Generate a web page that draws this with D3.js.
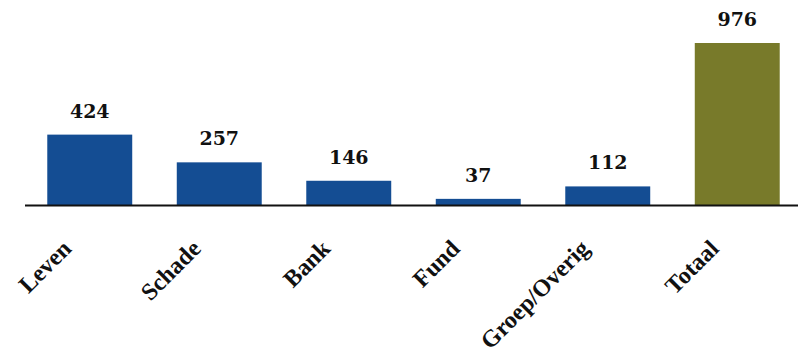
<!doctype html>
<html>
<head>
<meta charset="UTF-8">
<script src="https://d3js.org/d3.v7.min.js"></script>
<style>
  body { margin: 0; background: #fff; }
</style>
</head>
<body>
<script>
  var categories = ["Leven", "Schade", "Bank", "Fund", "Groep/Overig", "Totaal"];
  var values = [424, 257, 146, 37, 112, 976];
  var colors = ["#144d93", "#144d93", "#144d93", "#144d93", "#144d93", "#787a2a"];

  var width = 798, height = 355;
  var baseline = 205;

  var svg = d3.select('body').append('svg')
    .attr('width', width)
    .attr('height', height);

  var x = d3.scaleBand()
    .domain(categories)
    .range([25, 802])
    .paddingInner(0.344)
    .paddingOuter(0.172);

  var y = d3.scaleLinear()
    .domain([0, 976])
    .range([baseline, 43]);

  var data = categories.map((c, i) => ({ cat: c, val: values[i], color: colors[i] }));

  svg.selectAll('rect.bar')
    .data(data)
    .enter()
    .append('rect')
    .attr('class', 'bar')
    .attr('x', d => x(d.cat))
    .attr('y', d => y(d.val))
    .attr('width', x.bandwidth())
    .attr('height', d => baseline - y(d.val))
    .attr('fill', d => d.color);

  // value labels
  svg.selectAll('text.val')
    .data(data)
    .enter()
    .append('text')
    .attr('class', 'val')
    .text(d => d.val)
    .attr('x', d => x(d.cat) + x.bandwidth() / 2)
    .attr('y', d => y(d.val) - 17)
    .attr('text-anchor', 'middle')
    .style('font-family', '"DejaVu Serif", serif')
    .style('font-weight', 'bold')
    .style('font-size', '19px')
    .style('fill', '#111');

  // baseline
  svg.append('line')
    .attr('x1', 25).attr('x2', 798)
    .attr('y1', baseline + 0.5).attr('y2', baseline + 0.5)
    .style('stroke', '#111')
    .style('stroke-width', 1.8);

  // category labels
  svg.selectAll('text.cat')
    .data(data)
    .enter()
    .append('text')
    .attr('class', 'cat')
    .text(d => d.cat)
    .attr('text-anchor', 'end')
    .attr('transform', d => 'translate(' + (x(d.cat) + x.bandwidth() / 2 - 17) + ',' + 250 + ')rotate(-45)')
    .style('font-family', '"Liberation Serif", serif')
    .style('font-weight', 'bold')
    .style('font-size', '24px')
    .style('fill', '#111');
</script>
</body>
</html>
